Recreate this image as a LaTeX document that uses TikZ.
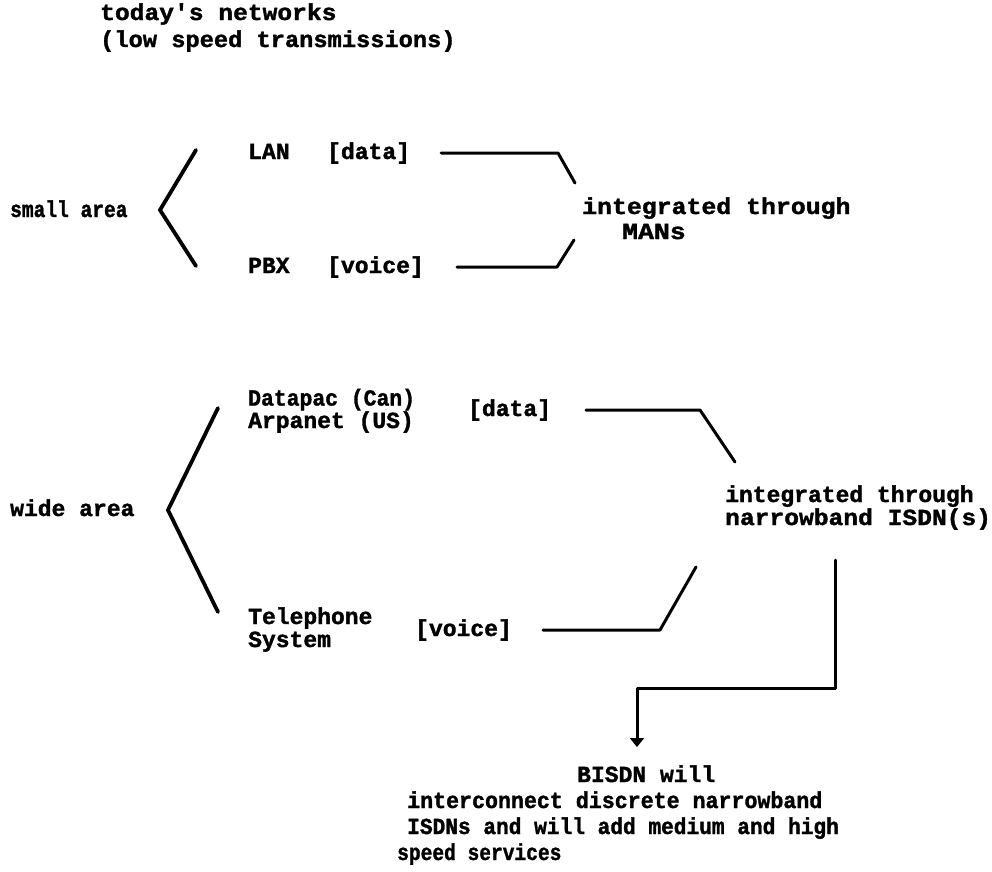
\documentclass[tikz,border=0pt]{standalone}
\usepackage{graphicx}
\usepackage{fontspec}
\setmonofont{Liberation Mono}[BoldFeatures={FakeBold=1.5}]
\usetikzlibrary{arrows.meta}
% horizontal stretch of one line of typewriter text
\newcommand{\hstretch}[2]{\scalebox{#1}[1]{#2}}
\begin{document}
\begin{tikzpicture}[x=1pt,y=-1pt,
  txt/.style={font=\ttfamily\bfseries\fontsize{23}{27}\selectfont,
              inner sep=0pt, anchor=base west, align=left},
  ln/.style={line width=3pt, line cap=round, line join=round},
  brace/.style={line width=3.8pt, line cap=round, line join=miter}]
\useasboundingbox (0,0) rectangle (992,871);

% heading (multi-line nodes are placed at the baseline of their last line)
\node[txt] (title) at (100,47) {\hstretch{1.07}{today\textquotesingle s networks}\\\hstretch{1.03}{(low speed transmissions)}};

% small area group
\node[txt] (small) at (10,217) {\hstretch{0.85}{small area}};
\node[txt] (lan)   at (248,159) {LAN};
\node[txt] (ldata) at (327,159) {[data]};
\node[txt] (pbx)   at (248,273) {PBX};
\node[txt] (pvoice) at (327,273) {[voice]};
\node[txt, font=\ttfamily\bfseries\fontsize{23}{25}\selectfont] (mans) at (582,239) {\hstretch{1.08}{integrated through}\\\hspace*{40pt}\hstretch{1.15}{MANs}};

\coordinate (sbt) at (196,150);
\coordinate (sbv) at (160,210);
\coordinate (sbb) at (196,266);
\draw[brace] (sbt) -- (sbv) -- (sbb);

\coordinate (sd0) at (441,153);
\coordinate (sd1) at (558,153);
\coordinate (sd2) at (575,183);
\draw[ln] (sd0) -- (sd1) -- (sd2);
\coordinate (sv0) at (457,267);
\coordinate (sv1) at (557,267);
\coordinate (sv2) at (574,240);
\draw[ln] (sv0) -- (sv1) -- (sv2);

% wide area group
\node[txt] (wide) at (10,516) {wide area};
\node[txt, font=\ttfamily\bfseries\fontsize{23}{21}\selectfont] (pkt) at (248,428) {\hstretch{0.93}{Datapac (Can)}\\Arpanet (US)};
\node[txt] (wdata) at (468,416) {[data]};
\node[txt, font=\ttfamily\bfseries\fontsize{23}{23}\selectfont] (tel) at (248,647) {Telephone\\System};
\node[txt] (wvoice) at (415,636) {[voice]};
\node[txt, font=\ttfamily\bfseries\fontsize{23}{23}\selectfont] (nisdn) at (725,525) {integrated through\\\hstretch{1.07}{narrowband ISDN(s)}};

\coordinate (wbt) at (218,408);
\coordinate (wbv) at (168,510);
\coordinate (wbb) at (218,612);
\draw[brace] (wbt) -- (wbv) -- (wbb);

\coordinate (wd0) at (586,410);
\coordinate (wd1) at (700,410);
\coordinate (wd2) at (735,462);
\draw[ln] (wd0) -- (wd1) -- (wd2);
\coordinate (wv0) at (543,630);
\coordinate (wv1) at (660,630);
\coordinate (wv2) at (696,567);
\draw[ln] (wv0) -- (wv1) -- (wv2);

% broadband ISDN
\node[txt, font=\ttfamily\bfseries\fontsize{23}{26}\selectfont] (bisdn) at (397,860) {\hspace*{180pt}BISDN will\\
\hspace*{10pt}\hstretch{0.94}{interconnect discrete narrowband}\\
\hspace*{10pt}\hstretch{0.92}{ISDNs and will add medium and high}\\
\hstretch{0.85}{speed services}};

\coordinate (r0) at (835,560);
\coordinate (r1) at (835,688);
\coordinate (r2) at (637,688);
\coordinate (r3) at (637,747);
\draw[ln, -{Triangle[width=14pt,length=9pt]}] (r0) -- (r1) -- (r2) -- (r3);
\end{tikzpicture}
\end{document}
